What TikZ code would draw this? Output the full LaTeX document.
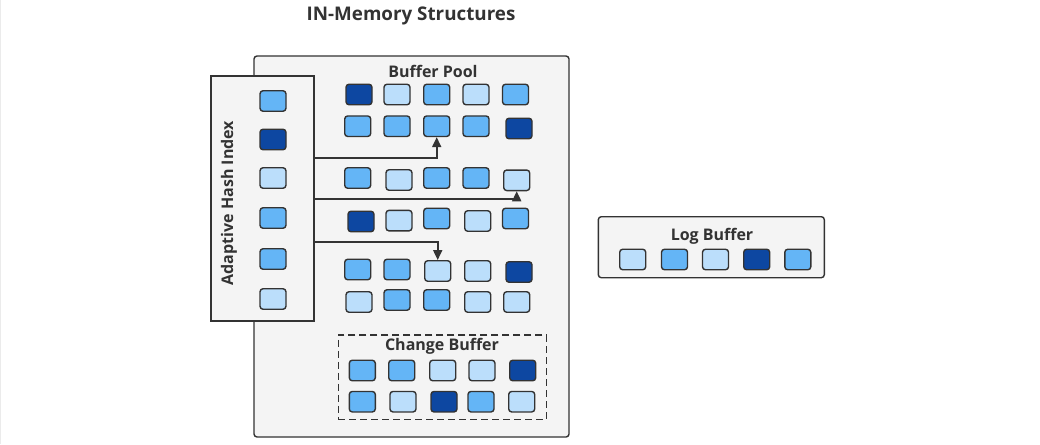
\documentclass[tikz,border=0pt]{standalone}
\usepackage{fontspec}
\setmainfont{Open Sans}
\usetikzlibrary{arrows.meta}
\definecolor{dk}{HTML}{0D47A1}
\definecolor{md}{HTML}{64B5F6}
\definecolor{lt}{HTML}{BBDEFB}
\definecolor{ln}{HTML}{333333}
\definecolor{panel}{HTML}{F4F4F4}
\begin{document}
\begin{tikzpicture}[x=1pt,y=-1pt,
  cell/.style={draw=ln,line width=1.4pt,rounded corners=3pt,minimum width=26pt,minimum height=20.5pt,inner sep=0pt},
  panelbox/.style={draw=ln,line width=1.4pt,fill=panel,rounded corners=3pt,inner sep=0pt},
  lbl/.style={text=ln,font=\bfseries\fontsize{16}{18}\selectfont,inner sep=0pt},
  link/.style={draw=ln,line width=1.8pt,-{Triangle[length=10pt,width=9pt]}}]
\useasboundingbox (0,0) rectangle (1040,444);
\draw[draw=black!8,line width=1pt] (0.5,0) -- (0.5,444);
% title
\node[text=ln,font=\bfseries\fontsize{18.8}{22}\selectfont,inner sep=0pt] (title) at (411,16) {IN-Memory Structures};
% buffer pool
\node[panelbox,minimum width=315pt,minimum height=381pt] (bp) at (411.5,246.5) {};
\node[lbl] (bplbl) at (433,71) {Buffer Pool};
% buffer pool cells
\foreach \n/\x/\y/\c in {
 a1/359/94.5/dk, a2/397/94.5/lt, a3/436.7/94.5/md, a4/476/94.5/lt, a5/515.5/94.5/md,
 b1/357.7/126.2/md, b2/397/126.2/md, b3/436.7/126.2/md, b4/476/126.2/md, b5/519/128.5/dk,
 c1/357.7/178/md, c2/399/180/lt, c3/436.7/178/md, c4/476/178/md, c5/516.7/180.3/lt,
 d1/361/221.5/dk, d2/399/220.6/lt, d3/436.7/218.5/md, d4/477.7/221/lt, d5/515.5/218.5/md,
 e1/357.7/269.5/md, e2/397/269.5/md, e3/437.7/271/lt, e4/477.7/271/lt, e5/519/272/dk,
 f1/359/302/lt, f2/397/300/md, f3/436.7/300/md, f4/477.7/302/lt, f5/516.7/302/lt}
 \node[cell,fill=\c] (\n) at (\x,\y) {};
% change buffer
\node[draw=ln,line width=1.4pt,dash pattern=on 7pt off 4pt,minimum width=208.4pt,minimum height=84.3pt,inner sep=0pt] (cb) at (442.5,377.2) {};
\node[lbl] (cblbl) at (442,346) {Change Buffer};
\foreach \n/\x/\y/\c in {
 g1/362.3/370.5/md, g2/401.7/370.5/md, g3/442.7/370.5/lt, g4/482/370.5/lt, g5/522.7/370.5/dk,
 h1/362.3/401.7/md, h2/403/401.7/lt, h3/444/401.7/dk, h4/481/401.7/md, h5/521.7/401.7/lt}
 \node[cell,fill=\c] (\n) at (\x,\y) {};
% adaptive hash index
\node[panelbox,rounded corners=0pt,minimum width=103pt,minimum height=245pt] (ahi) at (262.5,198.5) {};
\node[lbl,rotate=90] (ahilbl) at (229,203) {Adaptive Hash Index};
\foreach \n/\y/\c in {k1/101/md, k2/139.5/dk, k3/178/lt, k4/218/md, k5/259/md, k6/299/lt}
 \node[cell,fill=\c] (\n) at (273,\y) {};
% links
\coordinate (s1) at (ahi.east |- 0,158.3);
\coordinate (s2) at (ahi.east |- 0,199);
\coordinate (s3) at (ahi.east |- 0,241.7);
\draw[link] (s1) -| (b3.south);
\draw[link] (s2) -| (c5.south);
\draw[link] (s3) -| (e3.north);
% log buffer
\node[panelbox,minimum width=226pt,minimum height=61pt] (lb) at (711.3,247.2) {};
\node[lbl] (lblbl) at (712,236) {Log Buffer};
\foreach \n/\x/\c in {l1/632.7/lt, l2/674.5/md, l3/715.5/lt, l4/756.7/dk, l5/797.8/md}
 \node[cell,fill=\c] (\n) at (\x,259.5) {};
\end{tikzpicture}
\end{document}
